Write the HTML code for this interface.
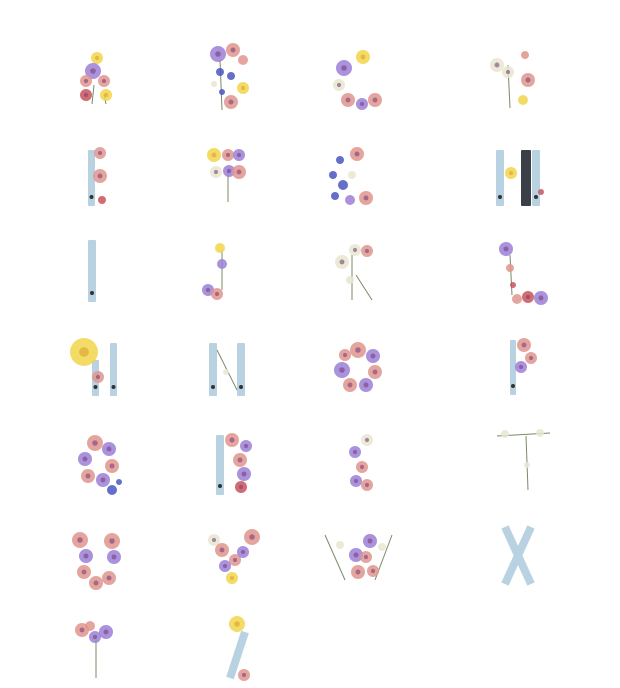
<!DOCTYPE html>
<html><head><meta charset="utf-8"><style>
html,body{margin:0;padding:0;background:#fff;width:620px;height:688px;overflow:hidden}
svg{display:block}
</style></head><body>
<svg id="s" width="620" height="688" viewBox="0 0 620 688" xmlns="http://www.w3.org/2000/svg"></svg>
<script>
const NS='http://www.w3.org/2000/svg';
const svg=document.getElementById('s');
const C={y:'#f2d54a',p:'#9b7fd6',k:'#e0958e',r:'#c8545a',b:'#4a55c0',w:'#e8e6d0',g:'#7a8a66',bl:'#b8d2e2',d:'#333'};
function mk(tag,attrs,parent){const e=document.createElementNS(NS,tag);for(const k in attrs)e.setAttribute(k,attrs[k]);parent.appendChild(e);return e;}
const letters=[
 ['A',[['st',94,85,92,104],['st',104,95,106,104],['f',97,58,6,'y'],['f',93,71,8,'p'],['f',86,81,6,'k'],['f',104,81,6,'k'],['f',86,95,6,'r'],['f',106,95,6,'y']]],
 ['B',[['st',220,60,222,110],['f',218,54,8,'p'],['f',233,50,7,'k'],['f',243,60,5,'k'],['f',220,72,4,'b'],['f',231,76,4,'b'],['f',222,92,3,'b'],['f',243,88,6,'y'],['f',231,102,7,'k'],['f',214,84,3,'w']]],
 ['C',[['f',344,68,8,'p'],['f',363,57,7,'y'],['f',339,85,6,'w'],['f',348,100,7,'k'],['f',362,104,6,'p'],['f',375,100,7,'k']]],
 ['D',[['st',508,65,510,108],['f',497,65,7,'w'],['f',508,72,6,'w'],['f',525,55,4,'k'],['f',528,80,7,'k'],['f',523,100,5,'y']]],
 ['E',[['bl',88,150,7,56],['f',100,153,6,'k'],['f',100,176,7,'k'],['f',102,200,4,'r']]],
 ['F',[['st',228,170,228,202],['f',214,155,7,'y'],['f',228,155,6,'k'],['f',239,155,6,'p'],['f',216,172,6,'w'],['f',229,171,6,'p'],['f',239,172,7,'k']]],
 ['G',[['f',357,154,7,'k'],['f',340,160,4,'b'],['f',333,175,4,'b'],['f',343,185,5,'b'],['f',335,196,4,'b'],['f',350,200,5,'p'],['f',366,198,7,'k'],['f',352,175,4,'w']]],
 ['H',[['bl',496,150,8,56],['bb',521,150,10,56],['bl',532,150,8,56],['f',511,173,6,'y'],['f',541,192,3,'r']]],
 ['I',[['bl',88,240,8,62]]],
 ['J',[['st',222,250,222,290],['f',220,248,5,'y'],['f',222,264,5,'p'],['f',208,290,6,'p'],['f',217,294,6,'k']]],
 ['K',[['st',352,255,352,300],['st',356,275,372,300],['f',342,262,7,'w'],['f',355,250,6,'w'],['f',367,251,6,'k'],['f',350,280,4,'w']]],
 ['L',[['st',510,255,512,295],['f',506,249,7,'p'],['f',510,268,4,'k'],['f',513,285,3,'r'],['f',517,299,5,'k'],['f',528,297,6,'r'],['f',541,298,7,'p']]],
 ['M',[['bl',92,360,7,36],['bl',110,343,7,53],['f',84,352,14,'y'],['f',98,377,6,'k']]],
 ['N',[['bl',209,343,8,53],['bl',237,343,8,53],['st',217,350,237,390],['f',226,372,3,'w']]],
 ['O',[['f',358,350,8,'k'],['f',373,356,7,'p'],['f',375,372,7,'k'],['f',366,385,7,'p'],['f',350,385,7,'k'],['f',342,370,8,'p'],['f',345,355,6,'k']]],
 ['P',[['bl',510,340,6,55],['f',524,345,7,'k'],['f',531,358,6,'k'],['f',521,367,6,'p']]],
 ['Q',[['f',95,443,8,'k'],['f',109,449,7,'p'],['f',112,466,7,'k'],['f',103,480,7,'p'],['f',88,476,7,'k'],['f',85,459,7,'p'],['f',112,490,5,'b'],['f',119,482,3,'b']]],
 ['R',[['bl',216,435,8,60],['f',232,440,7,'k'],['f',246,446,6,'p'],['f',240,460,7,'k'],['f',244,474,7,'p'],['f',241,487,6,'r']]],
 ['S',[['f',367,440,6,'w'],['f',355,452,6,'p'],['f',362,467,6,'k'],['f',356,481,6,'p'],['f',367,485,6,'k']]],
 ['T',[['st',497,436,550,433],['st',526,436,528,490],['f',505,434,4,'w'],['f',540,433,4,'w'],['f',527,465,3,'w']]],
 ['U',[['f',80,540,8,'k'],['f',86,556,7,'p'],['f',84,572,7,'k'],['f',96,583,7,'k'],['f',112,541,8,'k'],['f',114,557,7,'p'],['f',109,578,7,'k']]],
 ['V',[['f',214,540,6,'w'],['f',222,550,7,'k'],['f',235,560,6,'k'],['f',225,566,6,'p'],['f',243,552,6,'p'],['f',252,537,8,'k'],['f',232,578,6,'y']]],
 ['W',[['st',325,535,345,580],['st',392,535,375,580],['f',340,545,4,'w'],['f',382,547,4,'w'],['f',370,541,7,'p'],['f',356,555,7,'p'],['f',366,557,6,'k'],['f',358,572,7,'k'],['f',373,571,6,'k']]],
 ['X',[['xb',505,527,531,584],['xb',531,527,505,584]]],
 ['Y',[['st',96,640,96,678],['f',82,630,7,'k'],['f',95,637,6,'p'],['f',106,632,7,'p'],['f',90,626,5,'k']]],
 ['Z',[['xb',245,632,230,678],['f',237,624,8,'y'],['f',244,675,6,'k']]]
];
letters.forEach(([name,parts])=>{
 const g=mk('g',{},svg);
 
 
 parts.forEach(p=>{
  const t=p[0];
  if(t==='st')mk('line',{x1:p[1],y1:p[2],x2:p[3],y2:p[4],stroke:C.g,'stroke-width':1},g);
  else if(t==='bl'||t==='bb'){mk('rect',{x:p[1],y:p[2],width:p[3],height:p[4],fill:t==='bl'?C.bl:'#3a3f48',rx:1},g);
   if(t==='bl')mk('circle',{cx:p[1]+p[3]/2,cy:p[2]+p[4]-9,r:2,fill:C.d},g);}
  else if(t==='xb')mk('line',{x1:p[1],y1:p[2],x2:p[3],y2:p[4],stroke:C.bl,'stroke-width':8},g);
  else if(t==='f'){mk('circle',{cx:p[1],cy:p[2],r:p[3],fill:C[p[4]],opacity:0.85},g);
   if(p[3]>5)mk('circle',{cx:p[1],cy:p[2],r:p[3]*0.35,fill:p[4]==='y'?'#d9a030':'#7a3f7a',opacity:0.6},g);}
 });
});
</script>
</body></html>
